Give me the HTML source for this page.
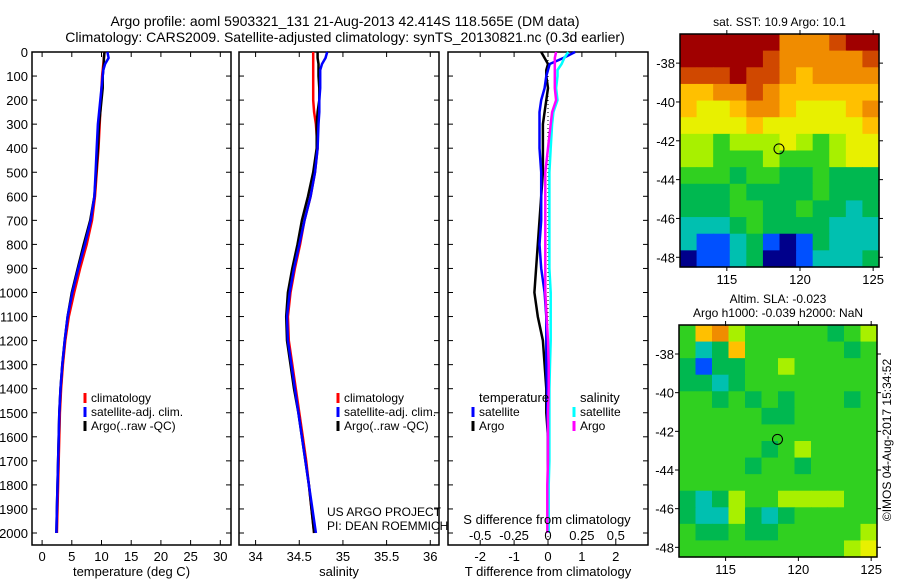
<!DOCTYPE html>
<html><head><meta charset="utf-8"><style>
body{margin:0;background:#fff;}
svg{display:block;font-family:"Liberation Sans",sans-serif;}
</style></head><body>
<svg id="c" width="900" height="580" viewBox="0 0 900 580">
<text x="345" y="26" font-size="14" text-anchor="middle">Argo profile: aoml 5903321_131 21-Aug-2013 42.414S 118.565E (DM data)</text>
<text x="345" y="42" font-size="14" text-anchor="middle">Climatology: CARS2009. Satellite-adjusted climatology: synTS_20130821.nc (0.3d earlier)</text>
<g id="g"></g>
</svg>
<script>
const depths=[0,25,50,75,100,150,200,250,300,400,500,600,700,800,900,1000,1100,1200,1300,1400,1500,1600,1700,1800,1900,2000];
const tempClim=[10.5,10.4,10.3,10.2,10.1,10.0,9.9,9.8,9.7,9.5,9.2,8.9,8.4,7.5,6.4,5.4,4.5,3.9,3.5,3.2,3.0,2.9,2.8,2.7,2.6,2.5];
const tempSat=[11.0,11.2,10.6,10.3,10.2,10.0,9.8,9.6,9.4,9.2,9.0,8.8,8.2,7.2,6.1,5.1,4.3,3.8,3.4,3.1,2.9,2.8,2.7,2.6,2.5,2.4];
const tempArgo=[10.5,10.4,10.4,10.3,10.2,10.2,10.0,9.8,9.6,9.4,9.1,8.8,8.1,7.0,6.0,5.0,4.3,3.8,3.4,3.1,2.9,2.8,2.7,2.6,2.5,2.4];
const salClim=[34.66,34.66,34.66,34.66,34.66,34.66,34.66,34.67,34.69,34.71,34.68,34.63,34.56,34.51,34.45,34.40,34.37,34.38,34.42,34.46,34.50,34.54,34.58,34.61,34.64,34.67];
const salSat=[34.82,34.80,34.76,34.74,34.74,34.74,34.73,34.73,34.72,34.71,34.68,34.63,34.56,34.50,34.44,34.39,34.36,34.37,34.41,34.45,34.49,34.53,34.57,34.61,34.65,34.69];
const salArgo=[34.71,34.71,34.72,34.72,34.72,34.73,34.73,34.71,34.70,34.70,34.66,34.60,34.53,34.48,34.42,34.37,34.35,34.36,34.40,34.44,34.49,34.53,34.57,34.61,34.64,34.67];
const tDiffSat=[0.8,0.45,0.05,0,-0.05,-0.1,-0.2,-0.25,-0.25,-0.25,-0.2,-0.2,-0.2,-0.25,-0.2,-0.1,-0.05,-0.05,-0.05,-0.03,-0.02,0,0,0,0,0];
const tDiffArgo=[-0.2,-0.1,0.0,-0.05,-0.05,0,-0.05,-0.1,-0.15,-0.15,-0.15,-0.2,-0.25,-0.3,-0.35,-0.4,-0.3,-0.15,-0.1,-0.05,-0.05,0,0,0,0,0];
const sDiffSat=[0.15,0.12,0.10,0.07,0.07,0.06,0.07,0.04,0.03,0.02,0.01,0.01,0.01,0.01,0.01,0.02,0.02,0.02,0.015,0.01,0.01,0.01,0.01,0.005,0.005,0.005];
const sDiffArgo=[0.06,0.05,0.05,0.05,0.05,0.05,0.06,0.03,0.02,0.0,-0.02,-0.02,-0.02,-0.02,-0.02,-0.02,-0.01,0.0,0.005,0.005,0.0,0,0,-0.005,-0.005,-0.005];
const depthTicks=[0,100,200,300,400,500,600,700,800,900,1000,1100,1200,1300,1400,1500,1600,1700,1800,1900,2000];
const tempTicks=[0,5,10,15,20,25,30];
const salTicks=[34,34.5,35,35.5,36];
const salTickLabels=["34","34.5","35","35.5","36"];
const tdTicks=[-2,-1,0,1,2];
const sdTicks=[-0.5,-0.25,0,0.25,0.5];
const sdTickLabels=["-0.5","-0.25","0","0.25","0.5"];
const lonTicks=[115,120,125];
const latTicks=[-38,-40,-42,-44,-46,-48];
const sstGrid=[
[10,10,10,10,10,10,8,8,8,9,10,10],
[10,10,10,10,10,9,8,8,8,8,8,9],
[9,9,9,10,9,9,8,7,8,8,8,8],
[7,7,8,8,9,8,7,7,7,7,7,7],
[7,6,6,7,8,8,7,6,6,6,7,8],
[6,6,6,6,7,6,6,6,6,6,6,7],
[5,5,4,5,5,5,6,5,4,5,6,6],
[5,5,4,4,4,5,4,4,4,5,6,6],
[4,4,4,3,4,4,3,3,4,3,3,3],
[3,3,3,4,3,3,3,3,4,3,3,3],
[3,3,3,4,4,3,3,4,3,3,2,3],
[2,2,2,3,4,3,3,3,3,2,2,2],
[2,1,1,2,3,1,0,1,3,2,2,2],
[0,1,1,2,3,0,0,1,2,2,2,3]];
const slaGrid=[
[4,7,8,5,4,4,4,4,4,3,4,5],
[4,2,3,7,4,4,4,4,4,4,3,4],
[3,1,3,3,4,4,5,4,4,4,4,4],
[3,3,2,3,4,4,4,4,4,4,4,4],
[4,4,3,4,3,4,3,4,4,4,3,4],
[4,4,4,4,4,3,3,4,4,4,4,4],
[4,4,4,4,4,4,4,4,4,4,4,4],
[4,4,4,4,4,3,4,5,4,4,4,4],
[4,4,4,4,3,4,4,3,4,4,4,4],
[4,4,4,4,4,4,4,4,4,4,4,4],
[3,2,3,5,4,4,5,5,5,5,4,4],
[3,2,2,5,3,2,3,4,4,4,4,4],
[4,3,3,4,3,3,4,4,4,4,4,5],
[4,4,4,4,4,4,4,4,4,4,5,6]];
const argoLon=118.565, argoLat=-42.414;
const palette=["#00008b","#0050ff","#00c0b0","#00b850","#30d020","#a8f000","#e8f000","#ffc000","#f08c00","#d04800","#a00000"];

const NS="http://www.w3.org/2000/svg";
const G=document.getElementById('g');
function mk(t,a,p){const e=document.createElementNS(NS,t);for(const k in a)e.setAttribute(k,a[k]);(p||G).appendChild(e);return e;}
function txt(x,y,s,anchor,size){const e=mk('text',{x:x,y:y,'font-size':size||13,'text-anchor':anchor||'start'});e.textContent=s;return e;}
const PT=52,PB=545;
const yD=d=>PT+d*0.2405;

function panel(name,x0,x1,xmin,xmax,ticks,labels,xlabel,series,leftLabels){
  const sx=v=>x0+(v-xmin)/(xmax-xmin)*(x1-x0);
  const r=mk('rect',{x:x0,y:PT,width:x1-x0,height:PB-PT,fill:'none',stroke:'#000','stroke-width':1.5});
  
  
  ticks.forEach((t,i)=>{
    const x=sx(t);
    mk('line',{x1:x,x2:x,y1:PT,y2:PT+5,stroke:'#000'});
    mk('line',{x1:x,x2:x,y1:PB,y2:PB-5,stroke:'#000'});
    if(labels){const e=txt(x,PB+16,labels[i],'middle');
    
    }
  });
  depthTicks.forEach(d=>{
    mk('line',{x1:x1,x2:x1-5,y1:yD(d),y2:yD(d),stroke:'#000'});
    mk('line',{x1:x0,x2:x0+5,y1:yD(d),y2:yD(d),stroke:'#000'});
    if(leftLabels){const e=txt(x0-4,yD(d)+5,String(d),'end');
    
    }
  });
  const xl=txt((x0+x1)/2,PB+31,xlabel,'middle');
  
  
  series.forEach(s=>{
    const pts=depths.map((d,i)=>sx(s.v[i]).toFixed(1)+','+yD(d).toFixed(1)).join(' ');
    const l=mk('polyline',{points:pts,fill:'none',stroke:s.c,'stroke-width':2.5,'stroke-linejoin':'round'});
    
    
  });
  return sx;
}
panel('temperature-panel',32,231,-1.7,31.8,tempTicks,tempTicks.map(String),'temperature (deg C)',
 [{v:tempClim,c:'#ff0000',n:'temp-climatology-line'},{v:tempArgo,c:'#000',n:'temp-argo-line'},{v:tempSat,c:'#0000ff',n:'temp-satellite-line'}],true);
panel('salinity-panel',239,439,33.81,36.1,salTicks,salTickLabels,'salinity',
 [{v:salClim,c:'#ff0000',n:'sal-climatology-line'},{v:salArgo,c:'#000',n:'sal-argo-line'},{v:salSat,c:'#0000ff',n:'sal-satellite-line'}],false);
const sxT=panel('difference-panel',448,648,-2.95,2.95,tdTicks,tdTicks.map(String),'T difference from climatology',[],false);
mk('line',{x1:sxT(0),x2:sxT(0),y1:PT,y2:PB,stroke:'#000','stroke-dasharray':'1,3'});
const sxS=v=>sxT(v*4);
[[tDiffArgo,'#000','tdiff-argo-line'],[tDiffSat,'#0000ff','tdiff-satellite-line'],[sDiffSat,'#00ffff','sdiff-satellite-line'],[sDiffArgo,'#ff00ff','sdiff-argo-line']].forEach((s,k)=>{
  const f=k<2?sxT:sxS;
  const pts=depths.map((d,i)=>f(s[0][i]).toFixed(1)+','+yD(d).toFixed(1)).join(' ');
  const l=mk('polyline',{points:pts,fill:'none',stroke:s[1],'stroke-width':2.5});
  
  
});
const sdt=txt(547,524,'S difference from climatology','middle');


sdTicks.forEach((t,i)=>{const e=txt(sxS(t),540,sdTickLabels[i],'middle');

});

function legend(x,y,items,title){
  if(title){const t=txt(x+8,y-14,title);
  
  }
  items.forEach((it,i)=>{
    const yy=y+i*14;
    mk('line',{x1:x+2,x2:x+2,y1:yy-9,y2:yy+1,stroke:it[1],'stroke-width':3});
    const e=txt(x+8,yy,it[0],'start',12);
    
    
  });
}
legend(83,402,[['climatology','#ff0000'],['satellite-adj. clim.','#0000ff'],['Argo(..raw -QC)','#000']]);
legend(336,402,[['climatology','#ff0000'],['satellite-adj. clim.','#0000ff'],['Argo(..raw -QC)','#000']]);
legend(471,416,[['satellite','#0000ff'],['Argo','#000']],'temperature');
legend(572,416,[['satellite','#00ffff'],['Argo','#ff00ff']],'salinity');
const u1=txt(327,516,'US ARGO PROJECT','start',12);
const u2=txt(327,530,'PI: DEAN ROEMMICH','start',12);

function map(name,x0,y0,x1,y1,grid,titles){
  const lonMin=111.8,lonMax=125.4,latTop=-36.5,latBot=-48.5;
  const sx=v=>x0+(v-lonMin)/(lonMax-lonMin)*(x1-x0);
  const sy=v=>y0+(latTop-v)/(latTop-latBot)*(y1-y0);
  const rows=grid.length,cols=grid[0].length,cw=(x1-x0)/cols,ch=(y1-y0)/rows;
  grid.forEach((row,r)=>row.forEach((v,c)=>{
    const e=mk('rect',{x:x0+c*cw,y:y0+r*ch,width:cw+0.6,height:ch+0.6,fill:palette[v]});
    
    
  }));
  const f=mk('rect',{x:x0,y:y0,width:x1-x0,height:y1-y0,fill:'none',stroke:'#000','stroke-width':1.5});
  
  
  lonTicks.forEach(t=>{const x=sx(t);
    mk('line',{x1:x,x2:x,y1:y0-4,y2:y0+1,stroke:'#000'});
    mk('line',{x1:x,x2:x,y1:y1,y2:y1+4,stroke:'#000'});
    const e=txt(x,y1+17,String(t),'middle');
    
    });
  latTicks.forEach(t=>{const y=sy(t);
    mk('line',{x1:x0-4,x2:x0,y1:y,y2:y,stroke:'#000'});
    mk('line',{x1:x1,x2:x1+4,y1:y,y2:y,stroke:'#000'});
    const e=txt(x0-5,y+5,String(t),'end');
    
    });
  const m=mk('circle',{cx:sx(argoLon),cy:sy(argoLat),r:5,fill:'none',stroke:'#000','stroke-width':1});
  
  
  titles.forEach((s,i)=>{const e=txt((x0+x1)/2,y0-22+i*14-(titles.length-1)*14+14,s,'middle',12);
    
    });
}
map('sst-map',680,34,879,267,sstGrid,['sat. SST: 10.9 Argo: 10.1']);
map('sla-map',679,325,877,557,slaGrid,['Altim. SLA: -0.023','Argo h1000: -0.039 h2000: NaN']);
const st=mk('text',{x:0,y:0,'font-size':12,'text-anchor':'middle',transform:'translate(891,440) rotate(-90)'});
st.textContent='©IMOS 04-Aug-2017 15:34:52';


</script>
</body></html>
